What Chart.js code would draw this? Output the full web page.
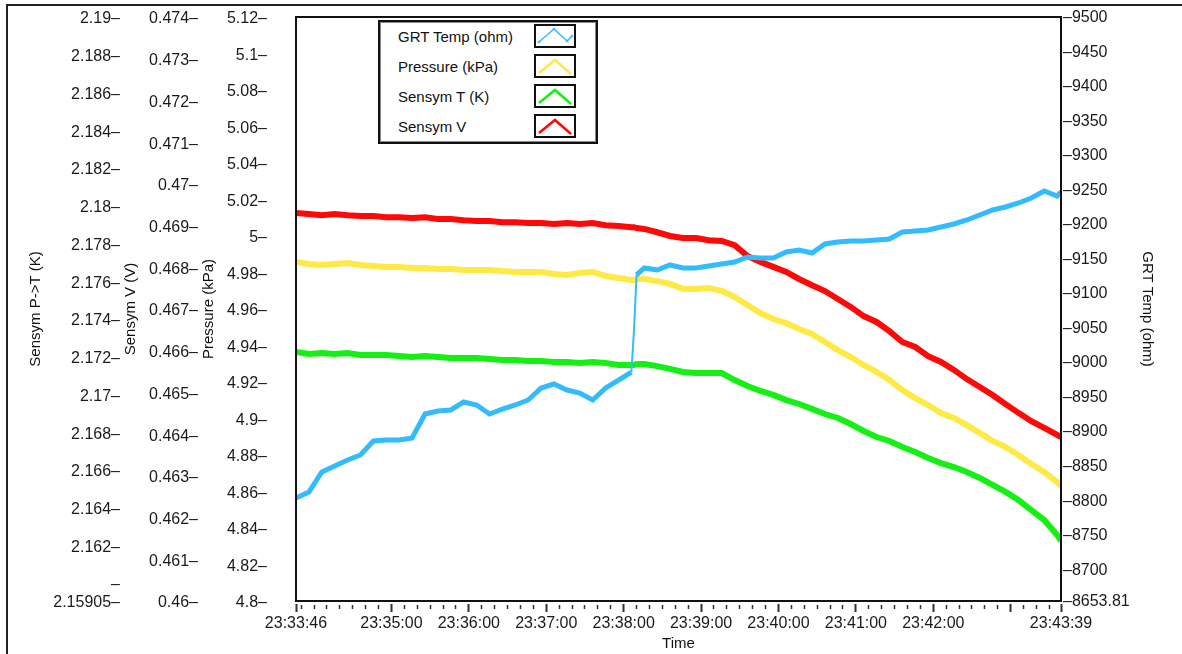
<!DOCTYPE html>
<html>
<head>
<meta charset="utf-8">
<title>Sensym / GRT log</title>
<script src="https://cdn.jsdelivr.net/npm/chart.js@4.4.1/dist/chart.umd.min.js"></script>
<style>
  html, body { margin: 0; padding: 0; background: #fff; overflow: hidden; }
  #wrap { position: relative; width: 1182px; height: 654px; overflow: hidden; }
  #frame { position: absolute; left: 6px; top: 4px; width: 1300px; height: 800px; border: 2px solid #222; }
  #myChart { position: absolute; left: 0; top: 0; }
  #legend {
    position: absolute; left: 378px; top: 20px; width: 216px; height: 120px;
    border: 2px solid #111; box-shadow: inset 0 0 0 1px #888; background: #fff;
    font: 15px "Liberation Sans", Arial, sans-serif; color: #111;
  }
  #legend .row { position: absolute; left: 0; width: 100%; height: 30px; }
  #legend .row span { position: absolute; left: 18px; white-space: nowrap; }
  #legend .row svg { position: absolute; left: 154px; }
</style>
</head>
<body>
<div id="wrap">
  <div id="frame"></div>
  <canvas id="myChart" width="1182" height="654"></canvas>
  <div id="legend"></div>
</div>
<script>
// log starts at 23:33:46, x values are seconds since then
const START = 23 * 3600 + 33 * 60 + 46

const seconds = [0, 10, 20, 30, 40, 50, 60, 70, 80, 90, 100, 110, 120, 130, 140, 150, 160, 170, 180, 190,
    200, 210, 220, 230, 240, 250, 260, 262, 264, 270, 280, 290, 300, 310, 320, 330, 340, 350, 360, 370,
    380, 390, 400, 410, 420, 430, 440, 450, 460, 470, 480, 490, 500, 510, 520, 530, 540, 550, 560, 570,
    580, 590, 593]

const grtOhm = [8803.1, 8811.7, 8840.7, 8849.4, 8858.1, 8865.4, 8885.6, 8887.1, 8887.1, 8890.0,
    8924.8, 8929.1, 8930.6, 8942.2, 8937.8, 8924.8, 8932.0, 8937.8, 8945.1, 8962.4,
    8968.2, 8959.5, 8955.2, 8945.1, 8962.4, 8974.0, 8985.6, 9046.5, 9126.2, 9136.3,
    9133.4, 9140.7, 9136.3, 9136.3, 9139.2, 9142.1, 9145.0, 9152.3, 9150.8, 9150.8,
    9159.5, 9162.4, 9158.1, 9171.1, 9174.0, 9175.4, 9175.4, 9176.9, 9178.3, 9188.5,
    9189.9, 9191.4, 9195.7, 9200.1, 9205.9, 9213.1, 9220.4, 9224.7, 9230.5, 9237.7,
    9247.9, 9240.6, 9246.4]

const pressureKPa = [4.9858, 4.9847, 4.9841, 4.9847, 4.9852, 4.9841, 4.9836, 4.9830, 4.9830, 4.9825,
    4.9825, 4.9819, 4.9819, 4.9814, 4.9814, 4.9814, 4.9808, 4.9803, 4.9803, 4.9803,
    4.9792, 4.9786, 4.9797, 4.9803, 4.9781, 4.9770, 4.9759, 4.9759, 4.9764, 4.9764,
    4.9753, 4.9737, 4.9710, 4.9710, 4.9715, 4.9699, 4.9666, 4.9622, 4.9578, 4.9545,
    4.9523, 4.9490, 4.9463, 4.9419, 4.9375, 4.9337, 4.9293, 4.9255, 4.9211, 4.9156,
    4.9112, 4.9074, 4.9030, 4.9003, 4.8964, 4.8921, 4.8877, 4.8844, 4.8800, 4.8751,
    4.8707, 4.8652, 4.8630]

const sensymT = [2.17225, 2.17214, 2.17219, 2.17214, 2.17219, 2.17209, 2.17209, 2.17209, 2.17203, 2.17198,
    2.17203, 2.17198, 2.17193, 2.17193, 2.17193, 2.17188, 2.17182, 2.17182, 2.17177, 2.17177,
    2.17172, 2.17172, 2.17166, 2.17172, 2.17166, 2.17156, 2.17156, 2.17156, 2.17161, 2.17161,
    2.17150, 2.17135, 2.17119, 2.17113, 2.17113, 2.17113, 2.17076, 2.17044, 2.17018, 2.16997,
    2.16970, 2.16949, 2.16923, 2.16896, 2.16875, 2.16843, 2.16806, 2.16774, 2.16753, 2.16721,
    2.16695, 2.16663, 2.16636, 2.16615, 2.16589, 2.16557, 2.16520, 2.16483, 2.16440, 2.16387,
    2.16334, 2.16255, 2.16223]

const sensymV = [0.46930, 0.46928, 0.46925, 0.46928, 0.46925, 0.46923, 0.46923, 0.46920, 0.46920, 0.46918,
    0.46920, 0.46916, 0.46916, 0.46913, 0.46911, 0.46911, 0.46908, 0.46908, 0.46906, 0.46906,
    0.46904, 0.46906, 0.46904, 0.46906, 0.46901, 0.46899, 0.46896, 0.46896, 0.46894, 0.46892,
    0.46884, 0.46875, 0.46870, 0.46870, 0.46865, 0.46863, 0.46853, 0.46827, 0.46813, 0.46801,
    0.46789, 0.46772, 0.46757, 0.46743, 0.46724, 0.46705, 0.46683, 0.46669, 0.46647, 0.46621,
    0.46609, 0.46587, 0.46573, 0.46554, 0.46532, 0.46513, 0.46494, 0.46472, 0.46451, 0.46431,
    0.46415, 0.46398, 0.46393]

// axis ticks
const pressureTicks = [4.8, 4.82, 4.84, 4.86, 4.88, 4.9, 4.92, 4.94, 4.96, 4.98, 5, 5.02, 5.04, 5.06, 5.08, 5.1, 5.12]
const voltTicks = [0.46, 0.461, 0.462, 0.463, 0.464, 0.465, 0.466, 0.467, 0.468, 0.469, 0.47, 0.471, 0.472, 0.473, 0.474]
const ptTicks = [2.15905, 2.16, 2.162, 2.164, 2.166, 2.168, 2.17, 2.172, 2.174, 2.176, 2.178, 2.18, 2.182, 2.184, 2.186, 2.188, 2.19]
const ptUnlabelled = [2.16]
const grtTicks = [8653.81, 8700, 8750, 8800, 8850, 8900, 8950, 9000, 9050, 9100, 9150, 9200, 9250, 9300, 9350, 9400, 9450, 9500]
const timeTicks = [0, 74, 134, 194, 254, 314, 374, 434, 494, 554, 593]
const timeUnlabelled = [554]

// small ticks every 10 s of clock time
const minorTicks = []
for (let s = 4; s < 593; s += 10) {
    if (!timeTicks.includes(s)) minorTicks.push(s)
}

const pad2 = n => String(n).padStart(2, '0')
function clock(s) {
    const t = START + s
    return `${pad2(Math.floor(t / 3600))}:${pad2(Math.floor(t / 60) % 60)}:${pad2(t % 60)}`
}

const fixedTicks = list => scale => { scale.ticks = list.map(v => ({ value: v })) }
const pairs = values => seconds.map((s, i) => ({ x: s, y: values[i] }))

// fixed width for a value axis; label padding must not push the plot down
const fitVertical = width => scale => {
    scale.width = width
    scale.paddingTop = 10
    scale.paddingBottom = 10
}

Chart.defaults.font.family = '"Liberation Sans", Arial, sans-serif'
Chart.defaults.color = '#111'

const tickFont = { size: 16 }
const titleFont = { size: 15 }

function leftAxis(title, ticks, min, max, weight, width, padding, hidden = []) {
    return {
        type: 'linear', position: 'left', weight, min, max,
        afterBuildTicks: fixedTicks(ticks),
        afterFit: fitVertical(width),
        grid: { display: false, drawTicks: false },
        border: { display: false },
        ticks: {
            autoSkip: false, padding, labelOffset: 2, font: tickFont, color: '#1a1a1a',
            callback: v => (hidden.includes(v) ? '' : v) + '–'
        },
        title: { display: true, text: title, font: titleFont, padding: 0 }
    }
}

// black box round the plot area
const plotFrame = {
    id: 'plotFrame',
    afterDraw(chart) {
        const { ctx, chartArea: a } = chart
        ctx.save()
        ctx.strokeStyle = '#111'
        ctx.lineWidth = 2
        ctx.strokeRect(a.left, a.top, a.right - a.left, a.bottom - a.top)
        ctx.restore()
    }
}

const chart = new Chart(document.getElementById('myChart'), {
    type: 'line',
    data: {
        datasets: [
            {
                label: 'GRT Temp (ohm)', data: pairs(grtOhm), yAxisID: 'yGrt',
                borderColor: '#33bbff', borderWidth: 5,
                segment: { borderWidth: ctx => Math.abs(ctx.p1.y - ctx.p0.y) > 25 ? 2 : 5 }
            },
            { label: 'Pressure (kPa)', data: pairs(pressureKPa), yAxisID: 'yPressure', borderColor: '#ffea45', borderWidth: 6 },
            { label: 'Sensym T (K)', data: pairs(sensymT), yAxisID: 'yPT', borderColor: '#14f014', borderWidth: 6 },
            { label: 'Sensym V', data: pairs(sensymV), yAxisID: 'yVolt', borderColor: '#ff0808', borderWidth: 6 }
        ]
    },
    options: {
        responsive: false,
        animation: false,
        events: [],
        elements: { point: { radius: 0 }, line: { tension: 0 } },
        layout: { padding: { left: 27, right: 26, top: 17, bottom: 1 } },
        plugins: { legend: { display: false }, tooltip: { enabled: false } },
        scales: {
            xMinor: {
                type: 'linear', position: 'bottom', weight: 0, min: 0, max: 593,
                afterBuildTicks: fixedTicks(minorTicks),
                afterFit: scale => { scale.height = 0 },
                grid: { drawOnChartArea: false, tickLength: 8, tickWidth: 1.5, tickColor: '#333', tickBorderDash: [0, 4, 4, 40] },
                border: { display: false },
                ticks: { display: false }
            },
            x: {
                type: 'linear', position: 'bottom', weight: 1, min: 0, max: 593,
                afterBuildTicks: fixedTicks(timeTicks),
                afterFit: scale => { scale.height = 52 },
                grid: { drawOnChartArea: false, tickLength: 11, tickWidth: 2, tickColor: '#333', tickBorderDash: [0, 3, 8, 40] },
                border: { display: false },
                ticks: {
                    autoSkip: false, maxRotation: 0, padding: 2, font: tickFont, color: '#1a1a1a',
                    callback: v => timeUnlabelled.includes(v) ? '' : clock(v)
                },
                title: { display: true, text: 'Time', font: titleFont, padding: 0 }
            },
            yPressure: leftAxis('Pressure (kPa)', pressureTicks, 4.8, 5.12, 0, 96, 29),
            yVolt: leftAxis('Sensym V (V)', voltTicks, 0.46, 0.474, 1, 78, 2),
            yPT: leftAxis('Sensym P->T (K)', ptTicks, 2.15905, 2.19, 2, 95, 2, ptUnlabelled),
            yGrt: {
                type: 'linear', position: 'right', min: 8653.81, max: 9500,
                afterBuildTicks: fixedTicks(grtTicks),
                afterFit: fitVertical(95),
                grid: { display: false, drawTicks: false },
                border: { display: false },
                ticks: { autoSkip: false, padding: 2, labelOffset: 1, font: tickFont, color: '#1a1a1a', callback: v => '–' + v },
                title: { display: true, text: 'GRT Temp (ohm)', font: titleFont, padding: 0 }
            }
        }
    },
    plugins: [plotFrame]
})

// legend box: name on the left, little line sample on the right
function buildLegend(chart) {
    const box = document.getElementById('legend')
    chart.data.datasets.forEach((ds, i) => {
        const row = document.createElement('div')
        row.className = 'row'
        row.style.top = `${i * 30}px`

        const name = document.createElement('span')
        name.textContent = ds.label
        name.style.top = '6px'

        const zig = i === 0 ? '5,18 20,5 33,17 38,12' : '5,19 21,6 37,20'
        const marks = i === 0
            ? [[5, 18], [20, 5], [33, 17], [38, 12]].map(([x, y]) =>
                `<path d="M${x - 1.5} ${y}h3M${x} ${y - 1.5}v3" stroke="${ds.borderColor}" stroke-width="1"/>`).join('')
            : ''
        const sample = `<svg width="42" height="24" style="top:2px">
            <rect x="1" y="1" width="40" height="22" fill="#fff" stroke="#111" stroke-width="2"/>
            <polyline points="${zig}" fill="none" stroke="${ds.borderColor}" stroke-width="${i === 0 ? 1.5 : 2.5}"/>${marks}</svg>`

        row.appendChild(name)
        row.insertAdjacentHTML('beforeend', sample)
        box.appendChild(row)
    })
}

buildLegend(chart)
</script>
</body>
</html>
